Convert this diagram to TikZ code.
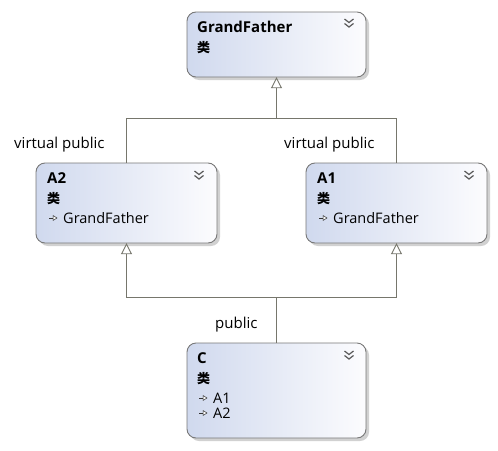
\documentclass[tikz,border=0pt]{standalone}
\usepackage{fontspec}
\setmainfont{Open Sans}
\newfontfamily\cjk{Noto Sans CJK SC}
\usetikzlibrary{shadows,arrows.meta}
\definecolor{boxleft}{RGB}{208,217,238}
\definecolor{boxright}{RGB}{252,252,254}
\definecolor{boxline}{RGB}{120,120,120}
\definecolor{conn}{RGB}{118,118,108}
\definecolor{chev}{RGB}{90,90,90}
\tikzset{
  clsbox/.style={draw=boxline, line width=0.9pt, rounded corners=9pt,
    left color=boxleft, right color=boxright,
    drop shadow={shadow xshift=3pt, shadow yshift=-3pt, fill=black!30, opacity=0.6}},
  connline/.style={draw=conn, line width=0.9pt},
  inh/.style={-{Triangle[open, width=11pt, length=11pt, fill=white]}, conn, line width=0.9pt},
  ttl/.style={anchor=base west, font=\fontsize{15}{17}\selectfont\bfseries, inner sep=0pt},
  kind/.style={anchor=base west, font=\cjk\fontsize{13}{15}\selectfont\bfseries, inner sep=0pt},
  item/.style={anchor=base west, font=\fontsize{14.5}{16}\selectfont, inner sep=0pt},
  lbl/.style={anchor=base west, font=\fontsize{15}{17}\selectfont, inner sep=0pt},
}
\newcommand{\inhicon}[2]{%
  \draw[black!80, line width=0.6pt] (#1,#2) -- ++(5,0);
  \draw[black!80, line width=0.5pt, fill=white] (#1+4,#2-2.5) -- (#1+8,#2) -- (#1+4,#2+2.5) -- cycle;}
\newcommand{\chevron}[2]{%
  \draw[chev, line width=1.2pt] (#1-4.5,#2-3) -- (#1,#2+0.5) -- (#1+4.5,#2-3);
  \draw[chev, line width=1.2pt] (#1-4.5,#2+1.5) -- (#1,#2+5) -- (#1+4.5,#2+1.5);}
\begin{document}
\begin{tikzpicture}[x=1pt,y=-1pt]
\useasboundingbox (0,0) rectangle (498,450);
% boxes
\path[clsbox] (187,12) rectangle (366,77);
\path[clsbox] (36,163) rectangle (217,243);
\path[clsbox] (306,163) rectangle (487,243);
\path[clsbox] (187,343) rectangle (366,438);
\node (gf) at (276.5,44.5) [minimum width=179pt, minimum height=65pt, inner sep=0pt] {};
\node (a2) at (126.5,203) [minimum width=181pt, minimum height=80pt, inner sep=0pt] {};
\node (a1) at (396.5,203) [minimum width=181pt, minimum height=80pt, inner sep=0pt] {};
\node (c) at (276.5,390.5) [minimum width=179pt, minimum height=95pt, inner sep=0pt] {};
% texts
\node[ttl] (gft) at (197,32) {GrandFather};
\node[kind] (gfk) at (197,52) {类};
\chevron{349}{22}
\node[ttl] (a2t) at (47,183) {A2};
\node[kind] (a2k) at (47,203) {类};
\inhicon{49}{218}
\node[item] (a2i) at (63,223) {GrandFather};
\chevron{199}{174}
\node[ttl] (a1t) at (317,183) {A1};
\node[kind] (a1k) at (317,203) {类};
\inhicon{319}{218}
\node[item] (a1i) at (333,223) {GrandFather};
\chevron{469}{174}
\node[ttl] (ct) at (197,363) {C};
\node[kind] (ck) at (197,383) {类};
\inhicon{199}{398}
\node[item] (ci1) at (213,403) {A1};
\inhicon{199}{413}
\node[item] (ci2) at (213,418) {A2};
\chevron{349}{354}
% connectors
\coordinate (j1) at (276.5,118);
\coordinate (j2) at (276.5,297);
\draw[connline] (a2.north) |- (j1);
\draw[connline] (a1.north) |- (j1);
\draw[inh] (j1) -- (gf.south);
\draw[connline] (c.north) -- (j2);
\draw[inh] (j2) -| (a2.south);
\draw[inh] (j2) -| (a1.south);
% labels
\node[lbl] (l1) at (14,148) {virtual public};
\node[lbl] (l2) at (284,148) {virtual public};
\node[lbl] (l3) at (215,328) {public};
\end{tikzpicture}
\end{document}
